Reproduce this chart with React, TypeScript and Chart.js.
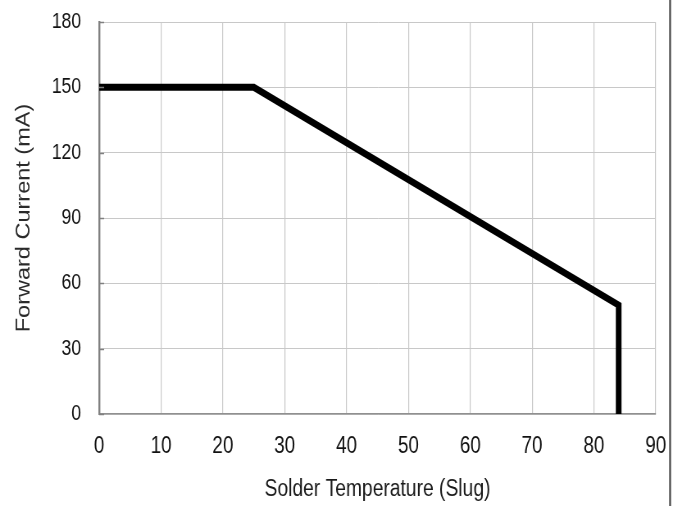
import React, { useEffect, useRef } from "react";
import { Chart, registerables } from "chart.js";

Chart.register(...registerables);

const temperature = [0, 25, 84, 84];
const current = [150, 150, 50, 0];
const xTicks = [0, 10, 20, 30, 40, 50, 60, 70, 80, 90];
const yTicks = [0, 30, 60, 90, 120, 150, 180];
const xTitle = "Solder Temperature (Slug)";
const yTitle = "Forward Current (mA)";

// the reference is a horizontally squeezed picture: draw wider, show at 682px
const INNER_W = 832;
const INNER_H = 506;

const framePlugin = {
  id: "frame",
  afterDraw(chart: any) {
    const ctx = chart.ctx;
    const y = chart.scales.y;
    const area = chart.chartArea;
    ctx.save();
    ctx.strokeStyle = "#808080";
    ctx.lineWidth = 1.5;
    yTicks.forEach((v) => {
      const py = Math.round(y.getPixelForValue(v)) + 0.5;
      ctx.beginPath();
      ctx.moveTo(area.left, py);
      ctx.lineTo(area.left + 6, py);
      ctx.stroke();
    });
    ctx.strokeStyle = "#505050";
    ctx.lineWidth = 2.4;
    ctx.beginPath();
    ctx.moveTo(817.5, 0);
    ctx.lineTo(817.5, chart.height);
    ctx.stroke();
    ctx.restore();
  },
};

const noPad = (s: any) => {
  s.paddingTop = 0;
  s.paddingBottom = 0;
  s.paddingLeft = 0;
  s.paddingRight = 0;
};

export default function App() {
  const ref = useRef<HTMLCanvasElement | null>(null);
  useEffect(() => {
    if (!ref.current) return;
    const chart = new Chart(ref.current, {
      type: "scatter",
      data: {
        datasets: [
          {
            data: temperature.map((t, i) => ({ x: t, y: current[i] })),
            showLine: true,
            borderColor: "#000",
            borderWidth: 7,
            borderJoinStyle: "miter",
            pointRadius: 0,
            fill: false,
          },
        ],
      },
      options: {
        animation: false,
        responsive: false,
        devicePixelRatio: 1,
        layout: { padding: { top: 22, right: 32, left: 0, bottom: 0 } },
        plugins: { legend: { display: false }, tooltip: { enabled: false } },
        scales: {
          x: {
            type: "linear",
            min: 0,
            max: 90,
            afterBuildTicks: (s: any) => {
              s.ticks = xTicks.map((v) => ({ value: v }));
            },
            afterFit: (s: any) => {
              s.height = 92;
              noPad(s);
            },
            grid: { color: "#c8c8c8", lineWidth: 1.2, drawTicks: false },
            border: { color: "#909090", width: 1.5 },
            ticks: {
              padding: 19,
              color: "#111",
              font: { family: "'Liberation Sans', Arial", size: 23 },
              maxRotation: 0,
            },
            title: {
              display: true,
              text: xTitle,
              color: "#1a1a1a",
              font: { family: "'Liberation Sans', Arial", size: 23.5 },
              padding: { top: 0, bottom: 2 },
            },
          },
          y: {
            type: "linear",
            min: 0,
            max: 180,
            afterBuildTicks: (s: any) => {
              s.ticks = yTicks.map((v) => ({ value: v }));
            },
            afterFit: (s: any) => {
              s.width = 121;
              noPad(s);
            },
            grid: { color: "#c8c8c8", lineWidth: 1, drawTicks: false },
            border: { color: "#808080", width: 2.4 },
            ticks: {
              padding: 22,
              color: "#111",
              font: { family: "'Liberation Sans', Arial", size: 21.5 },
            },
            title: {
              display: true,
              text: yTitle,
              color: "#2a2a2a",
              font: { family: "'Liberation Sans', Arial", size: 23.5 },
              padding: { top: 15.8, bottom: 0 },
            },
          },
        },
      },
      plugins: [framePlugin],
    } as any);
    return () => chart.destroy();
  }, []);
  return (
    <div style={{ position: "absolute", left: 0, top: 0, width: 682, height: 506, background: "#fff" }}>
      <canvas
        ref={ref}
        width={INNER_W}
        height={INNER_H}
        style={{ display: "block", width: "682px", height: "506px" }}
      />
    </div>
  );
}
